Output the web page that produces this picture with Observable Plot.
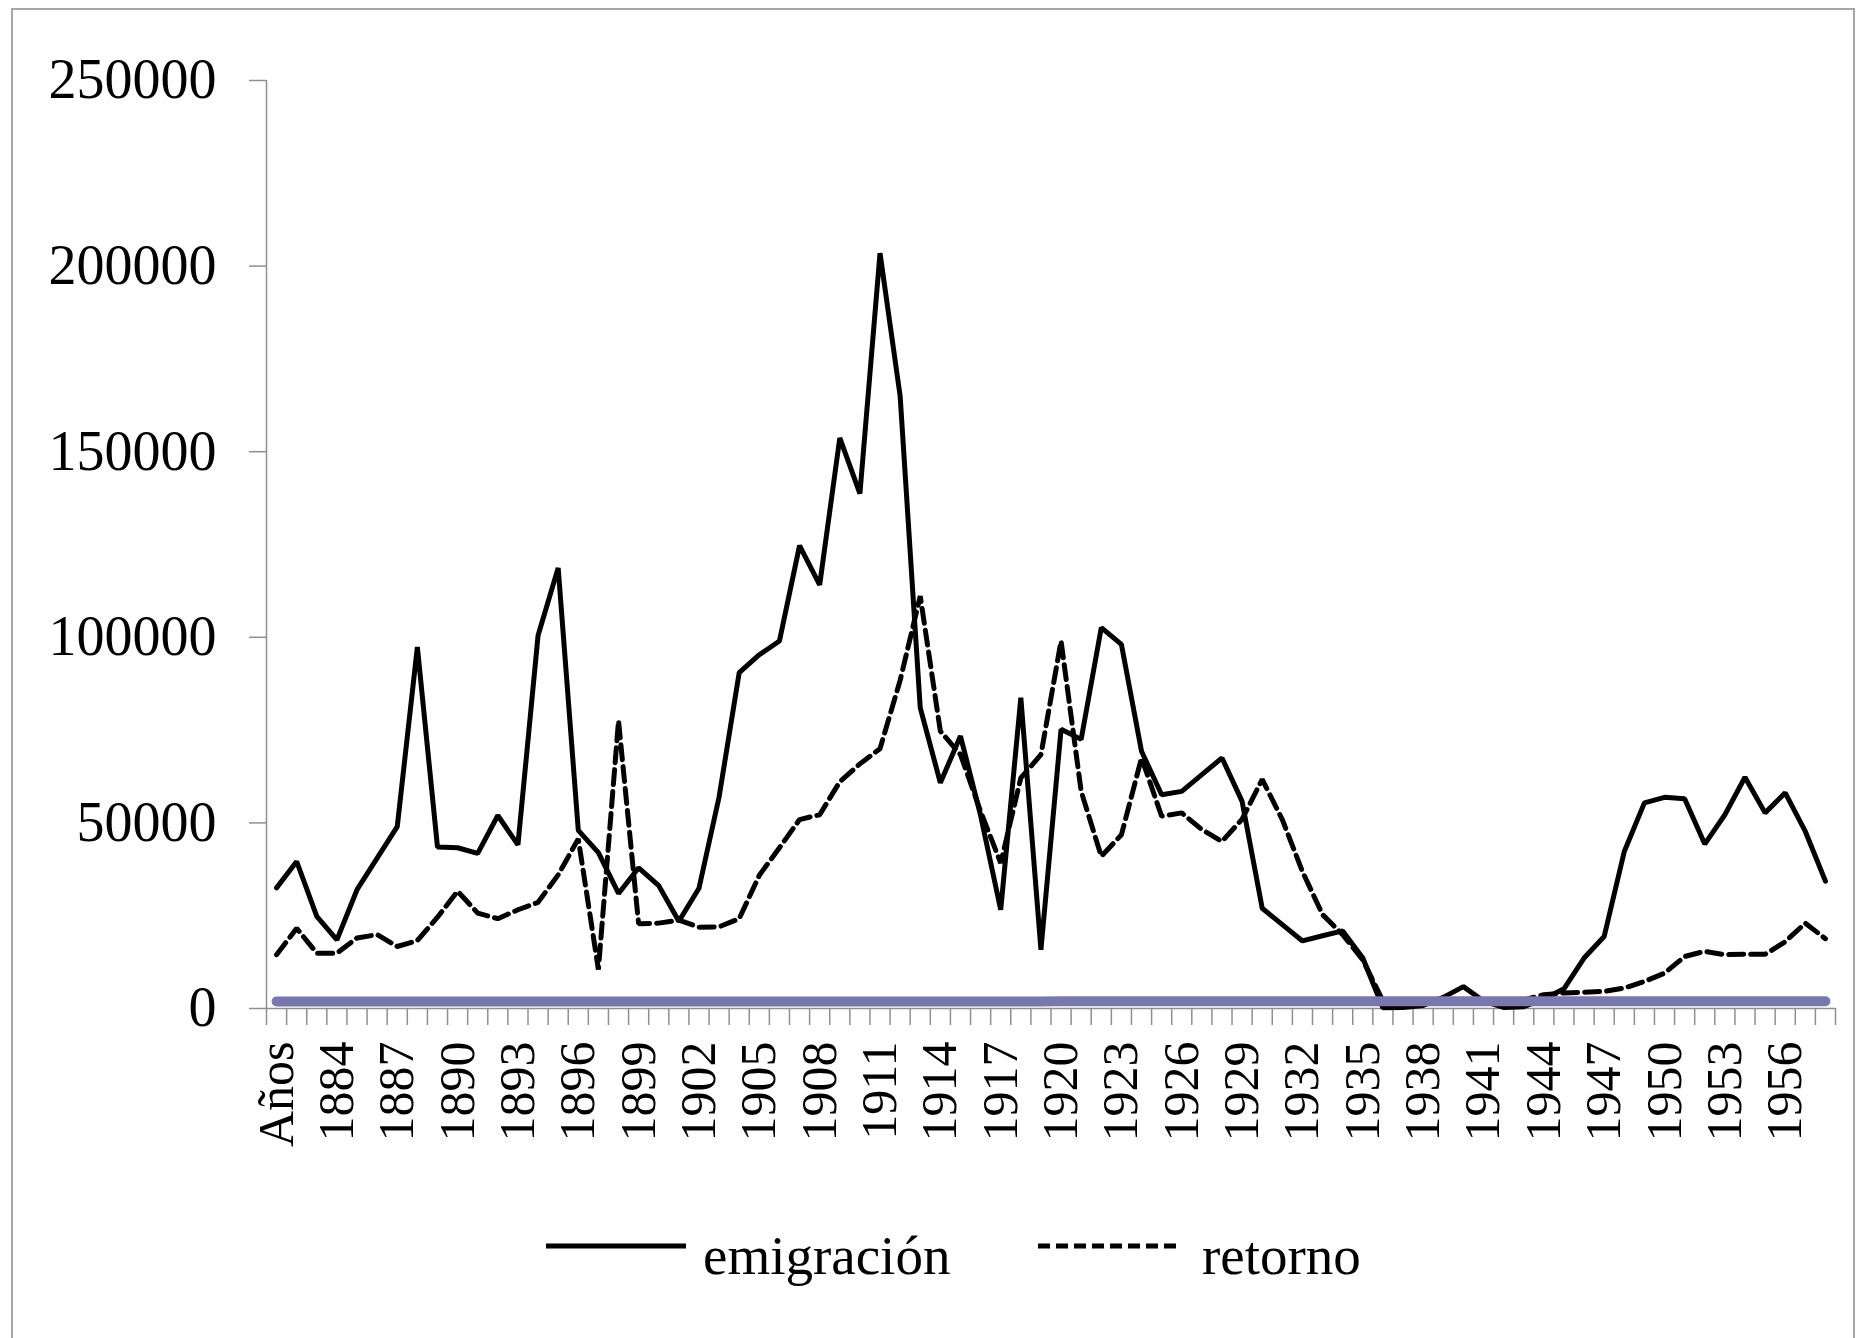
<!DOCTYPE html>
<html>
<head>
<meta charset="utf-8">
<script src="https://cdn.jsdelivr.net/npm/d3@7"></script>
<script src="https://cdn.jsdelivr.net/npm/@observablehq/plot@0.6"></script>
<style>
  html, body { margin: 0; padding: 0; background: #fff; }
  body { width: 1860px; height: 1338px; position: relative; overflow: hidden; font-family: "Liberation Serif", "Times New Roman", serif; }
  #frame { position: absolute; left: 11px; top: 8px; width: 1844px; height: 1400px; border: 2px solid #a6a6a6; box-sizing: border-box; }
  #chart { position: absolute; left: 0; top: 0; }
  #legend { position: absolute; left: 0; top: 1200px; width: 1860px; height: 120px; }
</style>
</head>
<body>
<div id="frame"></div>
<div id="chart"></div>
<div id="legend"></div>
<script>
// Category labels (first one is the header "Años", as in the source chart)
const labels = ["Años","1882","1883","1884","1885","1886","1887","1888","1889","1890",
  "1891","1892","1893","1894","1895","1896","1897","1898","1899","1900",
  "1901","1902","1903","1904","1905","1906","1907","1908","1909","1910",
  "1911","1912","1913","1914","1915","1916","1917","1918","1919","1920",
  "1921","1922","1923","1924","1925","1926","1927","1928","1929","1930",
  "1931","1932","1933","1934","1935","1936","1937","1938","1939","1940",
  "1941","1942","1943","1944","1945","1946","1947","1948","1949","1950",
  "1951","1952","1953","1954","1955","1956","1957","1958"];

const emigracion = [32500,39600,24800,18500,32000,40500,49000,97400,43500,43300,
  41800,52000,44100,100500,118700,48000,42000,31000,37900,33100,
  23500,32400,57000,90500,95300,99000,124700,114100,153700,138700,
  203500,165000,81000,60800,73400,52000,26600,83700,15800,75200,
  72500,102600,98100,69300,57600,58500,63000,67500,55800,27000,
  22600,18200,19600,20900,13600,200,300,800,3000,5900,
  2000,300,500,2500,5300,13600,19400,42300,55400,56900,
  56500,44300,52200,62300,52700,58100,47700,34300];

const retorno = [14500,21600,14900,14900,19000,19900,16700,18300,24600,31600,
  25700,24200,26600,28600,36000,45700,10500,77500,22800,23000,
  23800,21900,22000,24200,35900,43300,50900,52200,61100,65900,
  70000,88400,111100,74700,68400,53100,39200,62100,68400,99000,
  58500,41000,46800,67500,51800,52700,48200,45000,51000,61700,
  50900,36900,25300,19900,13100,2000,1600,1500,1600,1800,
  1900,2000,2300,3700,4200,4400,4600,5500,7300,9500,
  14000,15400,14500,14600,14600,18000,23000,18800];

// The "Años" column plotted as a series (values are the years themselves)
const anos = [1881,1882,1883,1884,1885,1886,1887,1888,1889,1890,
  1891,1892,1893,1894,1895,1896,1897,1898,1899,1900,
  1901,1902,1903,1904,1905,1906,1907,1908,1909,1910,
  1911,1912,1913,1914,1915,1916,1917,1918,1919,1920,
  1921,1922,1923,1924,1925,1926,1927,1928,1929,1930,
  1931,1932,1933,1934,1935,1936,1937,1938,1939,1940,
  1941,1942,1943,1944,1945,1946,1947,1948,1949,1950,
  1951,1952,1953,1954,1955,1956,1957,1958];

const yTicks = [0, 50000, 100000, 150000, 200000, 250000];

const data = labels.map((l, i) => ({i, label: l, emig: emigracion[i], ret: retorno[i], anio: anos[i]}));
const n = labels.length;
const boundaries = d3.range(-0.5, n, 1);
const labelIdx = d3.range(0, n, 3);

const FONT = "'Liberation Serif', 'Times New Roman', serif";
const GRAY = "#8f8f8f";

const chart = Plot.plot({
  width: 1860,
  height: 1200,
  marginLeft: 266,
  marginRight: 25,
  marginTop: 80,
  marginBottom: 192,
  style: {fontFamily: FONT, background: "transparent", color: "black", overflow: "visible"},
  x: {type: "linear", domain: [-0.5, n - 0.5], axis: null},
  y: {domain: [0, 250000], axis: null},
  marks: [
    Plot.ruleY([0], {stroke: GRAY, strokeWidth: 1.5}),
    Plot.ruleX([-0.5], {y1: 0, y2: 250000, stroke: GRAY, strokeWidth: 1.5}),
    Plot.axisY({ticks: yTicks, label: null, tickSize: 17, tickPadding: 33, fontSize: 56,
      tickFormat: d => String(d), stroke: GRAY, strokeWidth: 1.5, fill: "black"}),
    Plot.axisX({ticks: boundaries, label: null, tickSize: 17, tickFormat: () => "", stroke: GRAY, strokeWidth: 1.5}),
    Plot.axisX({ticks: labelIdx, label: null, tickSize: 0, tickPadding: 33, tickRotate: -90, fontSize: 50,
      tickFormat: i => labels[i], fill: "black"}),
    Plot.line(data, {x: "i", y: "emig", stroke: "black", strokeWidth: 5, strokeLinejoin: "miter"}),
    Plot.line(data, {x: "i", y: "ret", stroke: "black", strokeWidth: 5, strokeDasharray: "15,7", strokeLinejoin: "miter"}),
    Plot.line(data, {x: "i", y: "anio", stroke: "#7878ae", strokeWidth: 10, strokeLinecap: "round"})
  ]
});
document.getElementById("chart").appendChild(chart);

// Legend (series names)
const legendItems = [
  {name: "emigración", dash: null, x1: 546, x2: 686, tx: 703},
  {name: "retorno", dash: "12,6", x1: 1038, x2: 1180, tx: 1202}
];
const lsvg = d3.select("#legend").append("svg").attr("width", 1860).attr("height", 120);
legendItems.forEach(it => {
  lsvg.append("line").attr("x1", it.x1).attr("x2", it.x2).attr("y1", 46).attr("y2", 46)
    .attr("stroke", "black").attr("stroke-width", 5).attr("stroke-dasharray", it.dash);
  lsvg.append("text").attr("x", it.tx).attr("y", 74).attr("font-family", FONT)
    .attr("font-size", 55).attr("fill", "black").text(it.name);
});
</script>
</body>
</html>
